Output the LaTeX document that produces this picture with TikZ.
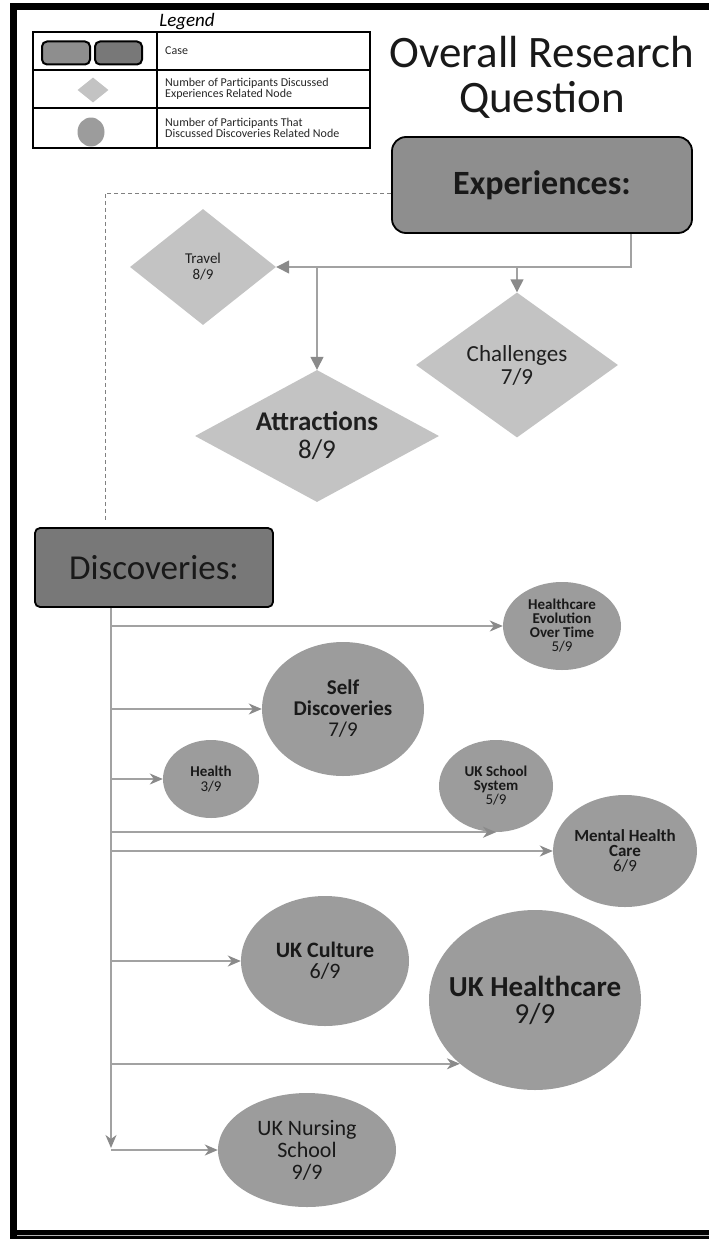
\documentclass[tikz,border=0pt]{standalone}
\usepackage{fontspec}
\setmainfont{Carlito}
\usetikzlibrary{positioning,shapes.geometric,arrows.meta}

\definecolor{diamondgray}{HTML}{C3C3C3}
\definecolor{circlegray}{HTML}{9C9C9C}
\definecolor{casegray}{HTML}{8E8E8E}
\definecolor{darkcase}{HTML}{787878}
\definecolor{linegray}{HTML}{A2A2A2}
\definecolor{tipgray}{HTML}{8A8A8A}

\begin{document}
\begin{tikzpicture}[
		x=1pt, y=-1pt,
		casebox/.style={draw=black, line width=1.8pt, rounded corners=14pt, fill=casegray, inner sep=0pt, text=black!90},
		expnode/.style={diamond, fill=diamondgray, inner sep=0pt, align=center, text=black!88},
		discnode/.style={ellipse, fill=circlegray, inner sep=0pt, align=center, text=black!90},
		keytext/.style={anchor=west, align=left, inner sep=0pt, font=\fontsize{12}{11}\selectfont, text=black!85},
		titletext/.style={anchor=base, inner sep=0pt, font=\fontsize{45}{45}\selectfont, text=black!90},
		exparrow/.style={draw=linegray, line width=1.4pt, -{Triangle[length=13pt, width=13pt, color=tipgray]}},
		discarrow/.style={draw=linegray, line width=1.5pt, -{Stealth[length=13pt, width=11pt, inset=4pt, color=tipgray]}},
		dashline/.style={draw=gray, line width=1pt, dash pattern=on 4pt off 3pt},
	]
		\useasboundingbox (0,0) rectangle (709,1239);
		\fill[black] (10,3) rectangle (709,10);
		\fill[black] (10,3) rectangle (17,1239);
		\fill[black] (10,1230) rectangle (709,1239);
		\draw[gray!60, line width=0.8pt] (17,1235) -- (709,1235);

		\node[anchor=base, inner sep=0pt, font=\fontsize{19}{19}\selectfont\itshape] (legendtitle) at (187,27) {Legend};
		\draw[line width=2.4pt] (33,32) rectangle (370,148);
		\draw[line width=2.4pt] (33,70) -- (370,70) (33,108) -- (370,108) (157,32) -- (157,148);
		\node[casebox, rounded corners=5pt, line width=2pt, minimum width=48pt, minimum height=23pt] (caselight) at (66,53) {};
		\node[casebox, rounded corners=5pt, line width=2pt, fill=darkcase, minimum width=47pt, minimum height=23pt] (casedark) at (118.5,53) {};
		\node[expnode, minimum width=31pt, minimum height=25pt] (keydiamond) at (93,90) {};
		\node[discnode, minimum width=27pt, minimum height=29pt] (keycircle) at (91,132) {};
		\node[keytext] (keycase) at (165,51) {Case};
		\node[keytext] (keyexp) at (165,89) {Number of Participants Discussed\\Experiences Related Node};
		\node[keytext] (keydisc) at (165,128) {Number of Participants That\\Discussed Discoveries Related Node};

		\node[titletext] (title1) at (542,67) {Overall Research};
		\node[titletext] (title2) at (542,112) {Question};

		\node[casebox, minimum width=300pt, minimum height=96pt, font=\fontsize{34}{34}\selectfont\bfseries] (exp) at (542,185) {Experiences:};
		\node[casebox, fill=darkcase, rounded corners=5pt, minimum width=238pt, minimum height=79pt, font=\fontsize{35}{35}\selectfont] (disc) at (154,567.5) {Discoveries:};

		\node[expnode, shape aspect=1.26, minimum width=146pt, minimum height=116pt, font=\fontsize{15}{16}\selectfont] (travel) at (203,267) {Travel\\8/9};
		\node[expnode, shape aspect=1.39, minimum width=202pt, minimum height=145pt, font=\fontsize{23}{23}\selectfont] (chal) at (517,365) {Challenges\\7/9};
		\node[expnode, shape aspect=1.85, minimum width=244pt, minimum height=132pt, font=\fontsize{27}{28}\selectfont] (attr) at (317,436) {\textbf{Attractions}\\8/9};

		\coordinate (expbend) at (631,267);
		\coordinate (dashx) at (105,0);
		\coordinate (trunkend) at (111,1148);

		\draw[dashline] ([yshift=-8pt]exp.west) -| ([yshift=6pt]disc.north -| dashx);
		\draw[exparrow] (exp.south -| expbend) |- (travel.east);
		\draw[exparrow] (expbend -| chal.north) -- (chal.north);
		\draw[exparrow] (expbend -| attr.north) -- (attr.north);

		\node[discnode, minimum width=118pt, minimum height=88pt, font=\fontsize{15}{14}\selectfont\bfseries] (hevo) at (562,626) {Healthcare\\Evolution\\Over Time\\\mdseries 5/9};
		\node[discnode, minimum width=162pt, minimum height=134pt, font=\fontsize{21}{21}\selectfont] (self) at (343,709) {\textbf{Self}\\\textbf{Discoveries}\\7/9};
		\node[discnode, minimum width=96pt, minimum height=78pt, font=\fontsize{15}{15}\selectfont] (health) at (211,779) {\textbf{Health}\\3/9};
		\node[discnode, minimum width=114pt, minimum height=92pt, font=\fontsize{15}{14}\selectfont] (school) at (496,786) {\textbf{UK School}\\\textbf{System}\\5/9};
		\node[discnode, minimum width=144pt, minimum height=112pt, font=\fontsize{17}{15}\selectfont] (mental) at (625,851) {\textbf{Mental Health}\\\textbf{Care}\\6/9};
		\node[discnode, minimum width=168pt, minimum height=130pt, font=\fontsize{22}{21}\selectfont] (culture) at (325,961) {\textbf{UK Culture}\\6/9};
		\node[discnode, inner xsep=-20pt, minimum width=212pt, minimum height=180pt, font=\fontsize{29}{27}\selectfont] (ukhc) at (535,1000) {\textbf{UK Healthcare}\\9/9};
		\node[discnode, minimum width=178pt, minimum height=114pt, font=\fontsize{22}{22}\selectfont] (nursing) at (307,1150) {UK Nursing\\School\\9/9};

		\draw[discarrow] (disc.south -| trunkend) -- (trunkend);
		\foreach \n in {hevo, self, health, mental, culture, nursing}
			\draw[discarrow] (\n.west -| trunkend) -- (\n.west);
		\draw[discarrow] (school.south -| trunkend) -- (school.south);
		\draw[discarrow] (ukhc.south west -| trunkend) -- (ukhc.south west);
	\end{tikzpicture}
\end{document}
